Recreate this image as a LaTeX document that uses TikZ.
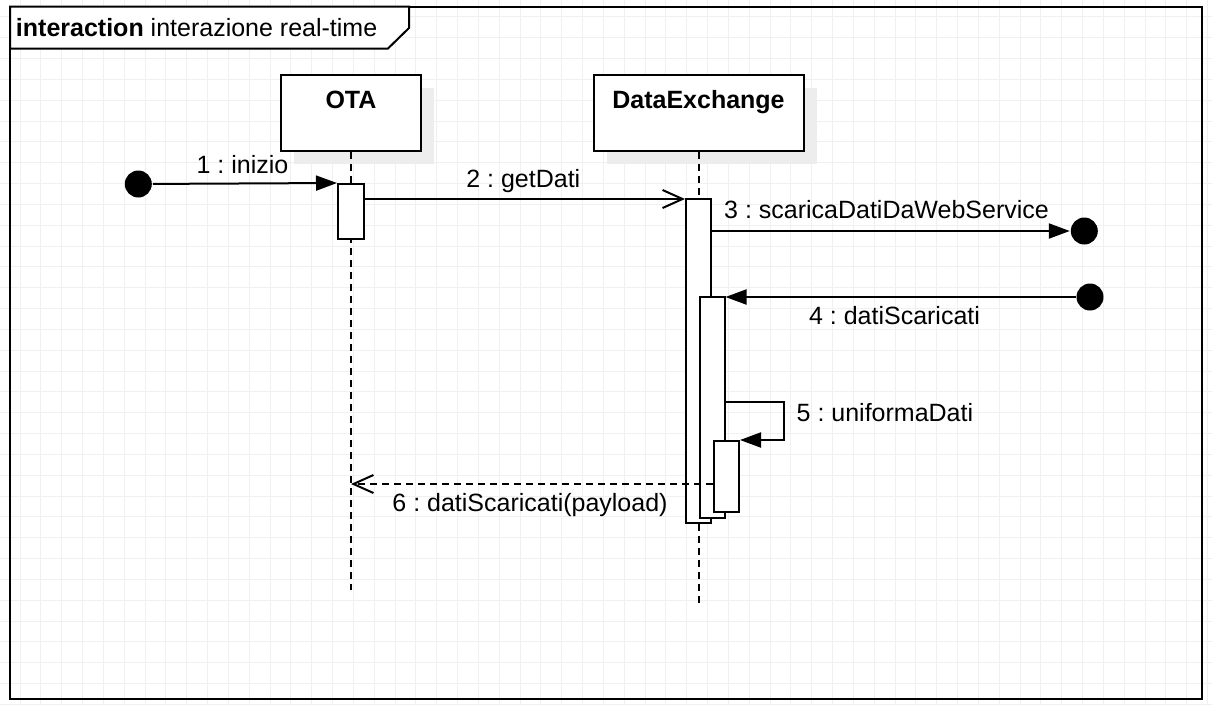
\documentclass[tikz,border=0pt]{standalone}
\usepackage{fontspec}
\setmainfont{Liberation Sans}
\usetikzlibrary{arrows.meta,shadows,calc}
\begin{document}
\frenchspacing
\begin{tikzpicture}[x=1pt,y=-1pt,
  line width=2pt,
  gridline/.style={draw=black!6, line width=1pt},
  lbl/.style={font=\fontsize{25}{30}\selectfont, inner sep=0pt, anchor=base},
  headbox/.style={draw, fill=white, rectangle, inner sep=0pt, line width=2pt,
    general shadow={fill=black!7, shadow xshift=13pt, shadow yshift=-13pt}},
  actbar/.style={draw, fill=white, rectangle, inner sep=0pt, minimum width=25pt, line width=2pt},
  enddot/.style={circle, fill=black, inner sep=0pt, minimum size=27pt},
  lifeln/.style={dash pattern=on 7pt off 5pt, line width=2pt},
  syncmsg/.style={-{Triangle[length=21pt,width=15pt]}},
  openmsg/.style={-{Straight Barb[length=20pt,width=18pt]}},
  replymsg/.style={-{Straight Barb[length=20pt,width=18pt]}, dash pattern=on 7pt off 5pt}
]
\useasboundingbox (0,0) rectangle (1212,705);
% grid
\foreach \k in {1,...,58} \draw[gridline] ({20.833*\k-0.8},0) -- ({20.833*\k-0.8},705);
\foreach \k in {1,...,34} \draw[gridline] (0,{20.833*\k-3.9}) -- (1212,{20.833*\k-3.9});
% frame
\draw[line width=2pt] (10,6.5) rectangle (1202,699);
\draw[line width=2pt, fill=white] (10,6.5) -- (409,6.5) -- (409,28) -- (388,48.5) -- (10,48.5) -- cycle;
\node[lbl, anchor=base west] (title) at (15,36) {\textbf{interaction} interazione real-time};
% heads
\node[headbox, minimum width=140pt, minimum height=76pt] (ota) at (351,113) {};
\node[headbox, minimum width=210pt, minimum height=76pt] (dx) at (698.5,113) {};
\node[lbl] (otat) at (351,108) {\textbf{OTA}};
\node[lbl] (dxt) at (698.5,108) {\textbf{DataExchange}};
% lifelines
\coordinate (otaend) at (351,590);
\coordinate (dxend) at (698.5,603);
\draw[lifeln] (ota.south) -- (otaend);
\draw[lifeln] (dx.south) -- (dxend);
% activation bars
\node[actbar, minimum width=26pt, minimum height=55pt] (a1) at (351,211.5) {};
\node[actbar, minimum height=324pt] (b1) at (698.5,361) {};
\node[actbar, minimum height=221pt] (b2) at (712,407.5) {};
\node[actbar, minimum height=71pt] (b3) at (726.5,476.5) {};
% found / lost message dots
\node[enddot] (s1) at (138.3,184) {};
\node[enddot] (e3) at (1084.3,231) {};
\node[enddot] (s4) at (1090,297) {};
% helper coordinates
\coordinate (m2) at (0,199);
\coordinate (m3) at (0,231);
\coordinate (m4) at (0,297);
\coordinate (m5r) at (784,402);
\coordinate (m6) at (0,484);
% messages
\draw[syncmsg] (s1) -- (a1.north west);
\draw[openmsg] (a1.east |- m2) -- (b1.west |- m2);
\draw[syncmsg] (b1.east |- m3) -- (e3.west);
\draw[syncmsg] (s4) -- (b2.east |- m4);
\draw[syncmsg] (b2.east |- m5r) -- (m5r) -- (m5r |- b3.north) -- (b3.north east);
\draw[replymsg] (b3.west |- m6) -- (ota.south |- m6);
% labels
\node[lbl] (l1) at (242.5,173) {1 : inizio};
\node[lbl] (l2) at (523.3,187.3) {2 : getDati};
\node[lbl] (l3) at (886.5,218) {3 : scaricaDatiDaWebService};
\node[lbl] (l4) at (894.5,324) {4 : datiScaricati};
\node[lbl, anchor=base west] (l5) at (795.7,421.7) {5 : uniformaDati};
\node[lbl] (l6) at (530,511.7) {6 : datiScaricati(payload)};
\end{tikzpicture}
\end{document}
